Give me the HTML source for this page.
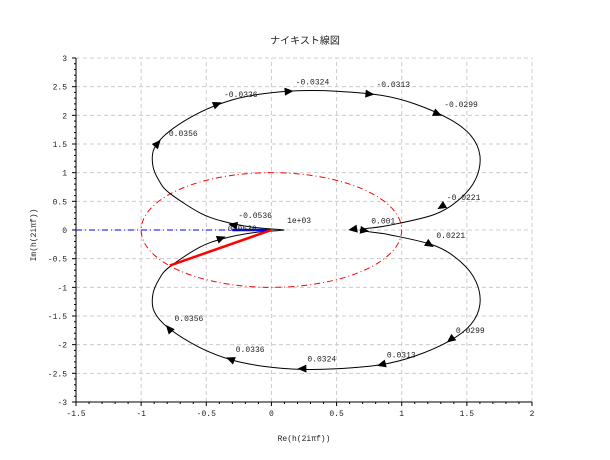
<!DOCTYPE html>
<html><head><meta charset="utf-8"><style>
body{margin:0;background:#fff;}
svg{display:block;font-family:"Liberation Mono","Noto Sans CJK JP",monospace;}
</style></head><body>
<svg id="chart" width="610" height="460" xmlns="http://www.w3.org/2000/svg"></svg>
<script>
const xTicks=[-1.5,-1,-0.5,0,0.5,1,1.5,2];
const yTicks=[-3,-2.5,-2,-1.5,-1,-0.5,0,0.5,1,1.5,2,2.5,3];
const xTickLabels=["-1.5","-1","-0.5","0","0.5","1","1.5","2"];
const yTickLabels=["-3","-2.5","-2","-1.5","-1","-0.5","0","0.5","1","1.5","2","2.5","3"];
// lower half (positive frequencies), from f=0.001 to f=1e3
const lowerRe=[0.68,0.9,1.25,1.45,1.57,1.6,1.53,1.37,1.1,0.84,0.5,0.23,-0.05,-0.3,-0.55,-0.79,-0.9,-0.91,-0.86,-0.78,-0.55,-0.37,-0.15,0.05,0.1];
const lowerIm=[0,-0.08,-0.27,-0.55,-0.9,-1.3,-1.65,-1.93,-2.2,-2.35,-2.42,-2.43,-2.38,-2.27,-2.05,-1.71,-1.42,-1.12,-0.85,-0.64,-0.3,-0.15,-0.05,-0.01,0];
const lowArrowRe=[0.72,1.22,1.37,0.84,0.23,-0.32,-0.79,-0.38];
const lowArrowIm=[-0.01,-0.26,-1.92,-2.35,-2.42,-2.25,-1.71,-0.14];
const lowLabels=["0.001","0.0221","0.0299","0.0313","0.0324","0.0336","0.0356","0.0536"];
const upArrowRe=[0.62,1.30,1.28,0.76,0.14,-0.41,-0.87,-0.30];
const upArrowIm=[0.01,0.40,2.02,2.37,2.42,2.2,1.52,0.09];
const upLabels=["","-0.0221","-0.0299","-0.0313","-0.0324","-0.0336","-0.0356","-0.0536"];
const redVecRe=-0.78, redVecIm=-0.62;

const svg=document.getElementById('chart');
const NS="http://www.w3.org/2000/svg";
const X0=76,X1=532,Y0=402,Y1=58;
const sx=v=>X0+(v-(-1.5))/(3.5)*(X1-X0);
const sy=v=>Y0-(v-(-3))/6*(Y0-Y1);
function mk(t,a,p){const e=document.createElementNS(NS,t);for(const k in a)e.setAttribute(k,a[k]);(p||svg).appendChild(e);return e;}

const grid=mk('g',{});


xTicks.forEach((v,i)=>{
  if(i>0){const l=mk('line',{x1:sx(v),x2:sx(v),y1:Y0,y2:Y1,stroke:'#ccc','stroke-dasharray':'4,3'},grid);
  }
  const t=mk('text',{x:sx(v),y:Y0+14,'font-size':8,'text-anchor':'middle',fill:'#222'});t.textContent=xTickLabels[i];
  
  mk('line',{x1:sx(v),x2:sx(v),y1:Y0,y2:Y0+4,stroke:'#000'});
  if(i<xTicks.length-1)for(let k=1;k<5;k++){const m=v+k*0.1;mk('line',{x1:sx(m),x2:sx(m),y1:Y0,y2:Y0+2,stroke:'#000'});}
});
yTicks.forEach((v,i)=>{
  if(i>0){const l=mk('line',{x1:X0,x2:X1,y1:sy(v),y2:sy(v),stroke:'#ccc','stroke-dasharray':'4,3'},grid);
  }
  const t=mk('text',{x:X0-9,y:sy(v)+3,'font-size':8,'text-anchor':'end',fill:'#222'});t.textContent=yTickLabels[i];
  
  mk('line',{x1:X0-4,x2:X0,y1:sy(v),y2:sy(v),stroke:'#000'});
  if(i<yTicks.length-1)for(let k=1;k<5;k++){const m=v+k*0.1;mk('line',{x1:X0-2,x2:X0,y1:sy(m),y2:sy(m),stroke:'#000'});}
});
const ax=mk('path',{d:`M${X0},${Y1}V${Y0}H${X1}`,stroke:'#000',fill:'none'});


const uc=mk('ellipse',{cx:sx(0),cy:sy(0),rx:sx(1)-sx(0),ry:sy(0)-sy(1),fill:'none',stroke:'#f00','stroke-dasharray':'6,3,1,3'});

const bl=mk('line',{x1:X0,x2:sx(0),y1:sy(0),y2:sy(0),stroke:'#00f','stroke-dasharray':'6,3,1,3'});

const bs=mk('line',{x1:sx(-0.3),x2:sx(0),y1:sy(0),y2:sy(0),stroke:'#00f','stroke-width':2.5});


const pts=[];
for(let i=lowerRe.length-1;i>=0;i--)pts.push([lowerRe[i],-lowerIm[i]]);
for(let i=1;i<lowerRe.length;i++)pts.push([lowerRe[i],lowerIm[i]]);
const P=pts.map(p=>[sx(p[0]),sy(p[1])]);
let d=`M${P[0][0]},${P[0][1]}`;
for(let i=0;i<P.length-1;i++){
  const p0=P[Math.max(i-1,0)],p1=P[i],p2=P[i+1],p3=P[Math.min(i+2,P.length-1)];
  d+=`C${p1[0]+(p2[0]-p0[0])/6},${p1[1]+(p2[1]-p0[1])/6} ${p2[0]-(p3[0]-p1[0])/6},${p2[1]-(p3[1]-p1[1])/6} ${p2[0]},${p2[1]}`;
}
const cv=mk('path',{d:d,fill:'none',stroke:'#000','stroke-width':1});


function tangentAt(x,y){
  let best=0,bd=1e9;
  for(let i=0;i<P.length-1;i++){const mx=(P[i][0]+P[i+1][0])/2,my=(P[i][1]+P[i+1][1])/2;const dd=(mx-x)**2+(my-y)**2;if(dd<bd){bd=dd;best=i;}}
  return Math.atan2(P[best+1][1]-P[best][1],P[best+1][0]-P[best][0]);
}
function arrow(re,im,lab){
  const x=sx(re),y=sy(im);
  const a=tangentAt(x,y);
  const g=mk('g',{transform:`translate(${x},${y}) rotate(${a*180/Math.PI})`});
  
  mk('path',{d:'M4,0L-5,-4L-5,4Z',fill:'#000'},g);
  if(lab){const t=mk('text',{x:x+6,y:y-7,'font-size':8,fill:'#222'});t.textContent=lab;
  }
}
for(let i=0;i<lowArrowRe.length;i++)arrow(lowArrowRe[i],lowArrowIm[i],lowLabels[i]);
for(let i=0;i<upArrowRe.length;i++)arrow(upArrowRe[i],upArrowIm[i],upLabels[i]);
const ht=mk('text',{x:sx(0.12),y:sy(0)-7,'font-size':8,fill:'#222'});ht.textContent="1e+03";


const rv=mk('line',{x1:sx(0),y1:sy(0),x2:sx(redVecRe),y2:sy(redVecIm),stroke:'#f00','stroke-width':2.5});


const ti=mk('text',{x:305,y:44,'font-size':10,'text-anchor':'middle',fill:'#222'});ti.textContent="ナイキスト線図";

const xl=mk('text',{x:304,y:441,'font-size':8,'text-anchor':'middle',fill:'#222'});xl.textContent="Re(h(2iπf))";

const yl=mk('text',{x:0,y:0,'font-size':8,'text-anchor':'middle',fill:'#222',transform:'translate(36,235) rotate(-90)'});yl.textContent="Im(h(2iπf))";

</script>
</body></html>
